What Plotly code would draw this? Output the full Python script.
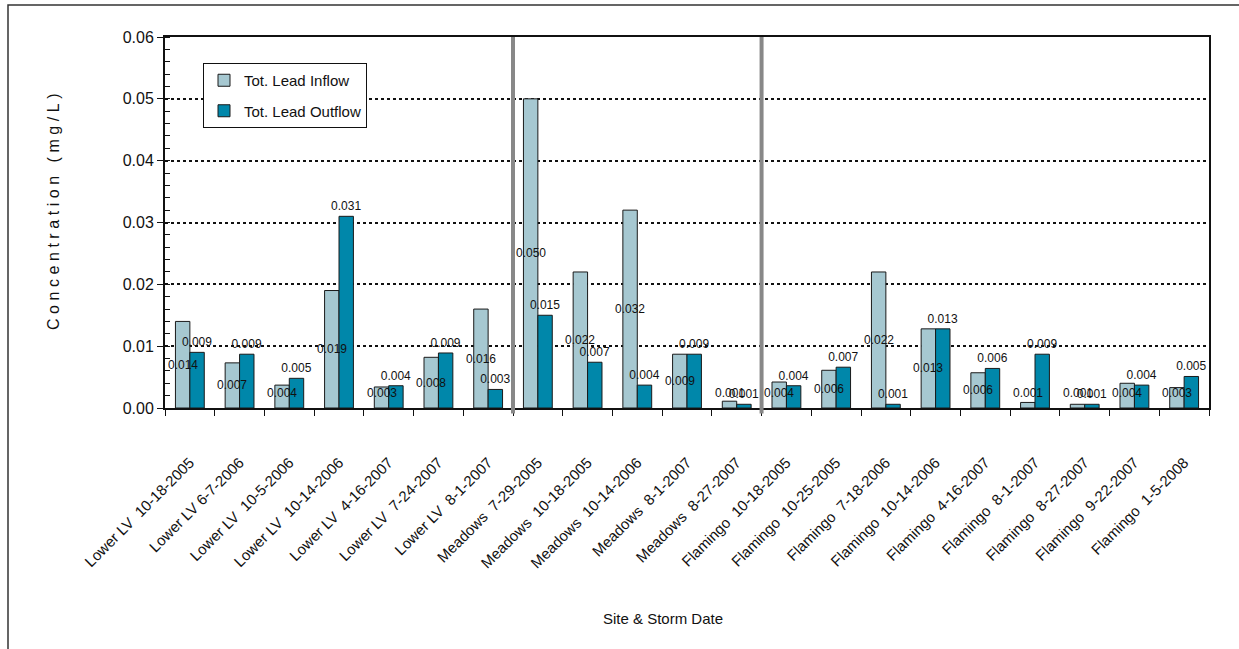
import plotly.graph_objects as go

sites = ["Lower LV"] * 7 + ["Meadows"] * 5 + ["Flamingo"] * 9
dates = ["10-18-2005", "6-7-2006", "10-5-2006", "10-14-2006", "4-16-2007", "7-24-2007", "8-1-2007",
         "7-29-2005", "10-18-2005", "10-14-2006", "8-1-2007", "8-27-2007",
         "10-18-2005", "10-25-2005", "7-18-2006", "10-14-2006", "4-16-2007", "8-1-2007",
         "8-27-2007", "9-22-2007", "1-5-2008"]
inflow = [0.014, 0.0073, 0.0037, 0.019, 0.0034, 0.0082, 0.016,
          0.050, 0.022, 0.032, 0.0087, 0.0011,
          0.0042, 0.0061, 0.022, 0.0128, 0.0057, 0.0009, 0.0006, 0.0040, 0.0033]
outflow = [0.009, 0.0087, 0.0048, 0.031, 0.0036, 0.0089, 0.0030,
           0.015, 0.0074, 0.0037, 0.0087, 0.0006,
           0.0036, 0.0066, 0.0006, 0.0128, 0.0064, 0.0087, 0.0006, 0.0037, 0.0051]

categories = [s + ("\u00a0" if d == "6-7-2006" and s == "Lower LV" else "\u00a0\u00a0") + d
              for s, d in zip(sites, dates)]

FONT = "Liberation Sans, Arial, sans-serif"
LABEL_FONT = dict(family=FONT, size=12, color="#111")

fig = go.Figure()
fig.add_trace(go.Bar(
    x=categories, y=inflow, name="Tot. Lead Inflow",
    marker=dict(color="#A6C8D1", line=dict(color="#1a1a1a", width=1)),
    legendgroup="a",
))
fig.add_trace(go.Bar(
    x=categories, y=outflow, name="Tot. Lead Outflow",
    marker=dict(color="#0087AA", line=dict(color="#1a1a1a", width=1)),
    texttemplate="%{y:.3f}", textposition="outside",
    textangle=0, constraintext="none", cliponaxis=False,
    outsidetextfont=LABEL_FONT,
    legendgroup="b",
))

annotations = []
# inflow labels centered on the inflow bars (kept clear of the axis as in the source)
for c, v in zip(categories, inflow):
    annotations.append(dict(text=f"{v:.3f}", x=c, y=max(v / 2, 0.0024), xref="x", yref="y",
                            xshift=-7.2, showarrow=False, xanchor="center", yanchor="middle",
                            font=LABEL_FONT))

# separators between sites
shapes = []
for i in range(1, len(sites)):
    if sites[i] != sites[i - 1]:
        shapes.append(dict(type="line", xref="x", yref="paper", x0=i - 0.5, x1=i - 0.5,
                           y0=-0.015, y1=1, line=dict(color="#888888", width=4)))
# outer frame
shapes.append(dict(type="rect", xref="paper", yref="paper",
                   x0=(8 - 165) / 1044, x1=(1245 - 165) / 1044,
                   y0=(408 - 660) / 371, y1=(408 - 5) / 371,
                   line=dict(color="#333333", width=1.5), layer="below"))

ytitle = "\u2009\u200a".join(list("Concentration (mg/L)"))
annotations += [
    dict(text=ytitle, xref="paper", yref="paper", x=(53 - 165) / 1044, y=(408 - 212) / 371,
         textangle=-90, showarrow=False, xanchor="center", yanchor="middle",
         font=dict(family=FONT, size=16, color="#111")),
    dict(text="Site & Storm Date", xref="paper", yref="paper", x=(663 - 165) / 1044,
         y=(408 - 618) / 371, showarrow=False, xanchor="center", yanchor="middle",
         font=dict(family=FONT, size=15, color="#111")),
]

fig.update_layout(
    width=1239, height=649,
    margin=dict(l=165, r=30, t=37, b=241),
    paper_bgcolor="white", plot_bgcolor="white",
    barmode="group", bargap=0.42, bargroupgap=0,
    font=dict(family=FONT, size=15, color="#111"),
    showlegend=True,
    legend=dict(x=(203 - 165) / 1044, y=(408 - 63) / 371, xanchor="left", yanchor="top",
                bgcolor="white", bordercolor="#111", borderwidth=1,
                font=dict(family=FONT, size=15, color="#111"),
                traceorder="grouped", tracegroupgap=8, itemwidth=30),
    shapes=shapes,
    annotations=annotations,
)

fig.update_xaxes(
    type="category", tickangle=-45, tickson="boundaries", ticks="outside", ticklen=6,
    tickcolor="#111", showline=True, linecolor="#111", linewidth=2, mirror=True,
    tickfont=dict(family=FONT, size=15, color="#111"), showgrid=False,
    ticklabelstandoff=38,
)
fig.update_yaxes(
    range=[0, 0.06], dtick=0.01, tickformat=".2f", ticks="outside", ticklen=6,
    tickcolor="#111", showline=True, linecolor="#111", linewidth=2, mirror=True,
    showgrid=True, gridcolor="#111", griddash="dot", gridwidth=1.5,
    tickfont=dict(family=FONT, size=16, color="#111"), zeroline=False,
    minor=dict(dtick=0.002, ticks="inside", ticklen=5, tickcolor="#111", showgrid=False),
)

fig.write_html("out.html")
